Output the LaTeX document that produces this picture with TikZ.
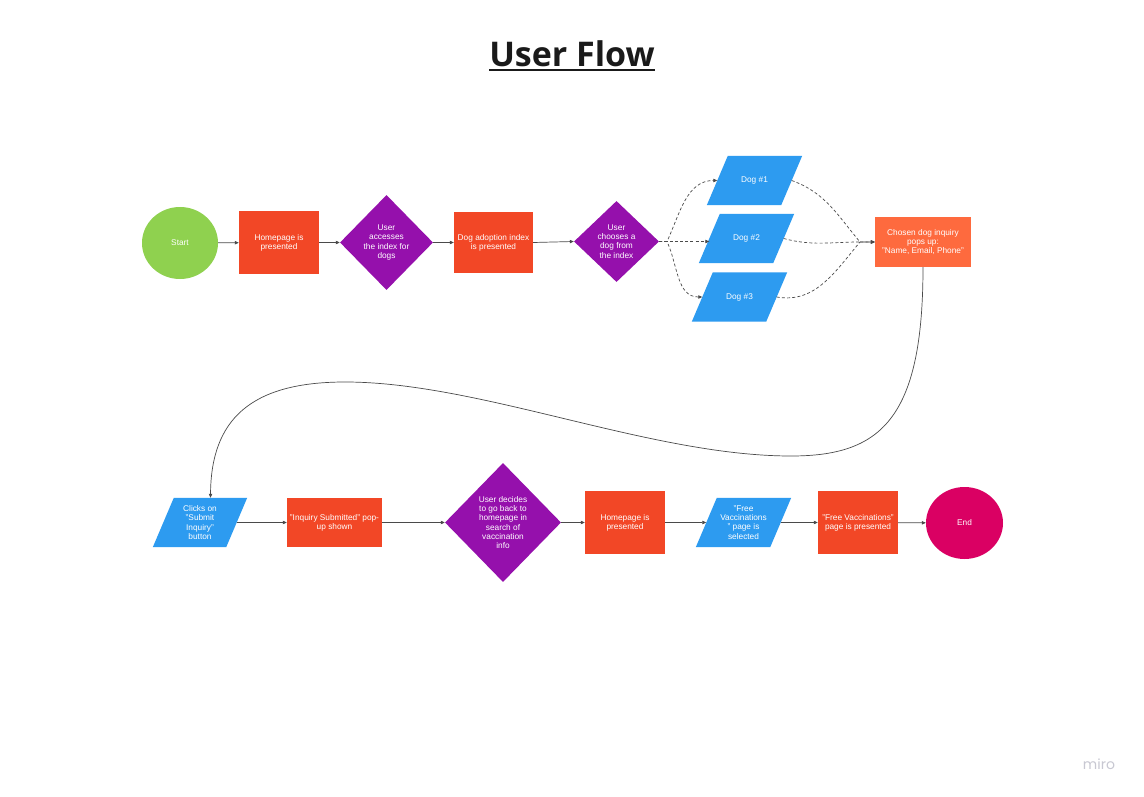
\documentclass[tikz,border=0pt]{standalone}
\usepackage{fontspec}
\setmainfont{Liberation Sans}
\newfontfamily\titlefont{Open Sans}
\newfontfamily\mirofont{Poppins}
\usetikzlibrary{shapes.geometric,arrows.meta,backgrounds}
\definecolor{cGreen}{HTML}{8FD14F}
\definecolor{cRed}{HTML}{F24726}
\definecolor{cPurple}{HTML}{9510AC}
\definecolor{cBlue}{HTML}{2D9BF0}
\definecolor{cOrange}{HTML}{FE6A3E}
\definecolor{cEnd}{HTML}{DA0063}
\definecolor{cLine}{HTML}{4A4A4A}
\definecolor{cTitle}{HTML}{1A1A1A}
\definecolor{cMiro}{HTML}{C8C8D2}
\newcommand\parafill[1]{\fill[cBlue] ([xshift=-10.5pt]#1.south west) -- ([xshift=-10.5pt]#1.south east) -- ([xshift=10.5pt]#1.north east) -- ([xshift=10.5pt]#1.north west) -- cycle;}
\begin{document}
\begin{tikzpicture}[x=1pt,y=-1pt,
  base/.style={draw=none,text=white,font=\fontsize{8.3}{9.2}\selectfont,align=center,inner sep=0pt},
  boxr/.style={base,rectangle,fill=cRed},
  circ/.style={base,ellipse},
  dia/.style={base,diamond,fill=cPurple},
  para/.style={base,rectangle,minimum height=49pt,minimum width=74pt},
  arr/.style={draw=cLine,line width=0.7pt,-{Triangle[length=4pt,width=3.4pt]}},
  dsh/.style={arr,dash pattern=on 3pt off 2.2pt}]
% title
\node[font=\titlefont\bfseries\fontsize{34}{40}\selectfont,text=cTitle,inner sep=0pt,anchor=base] (title) at (572,66.5) {User Flow};
\draw[cTitle,line width=2pt] ([yshift=-3.8pt]title.base west) -- ([yshift=-3.8pt]title.base east);
% top row
\node[circ,fill=cGreen,minimum width=76pt,minimum height=72pt] (start) at (180,243) {Start};
\node[boxr,minimum width=80pt,minimum height=63pt] (home1) at (279,242.5) {Homepage is\\presented};
\node[dia,minimum width=93pt,minimum height=95pt] (d1) at (386.5,242.5) {User\\accesses\\the index for\\dogs};
\node[boxr,minimum width=79pt,minimum height=61pt] (idx) at (493.5,242.5) {Dog adoption index\\is presented};
\node[dia,minimum width=85pt,minimum height=81pt] (d2) at (616.5,241.5) {User\\chooses a\\dog from\\the index};
\node[para] (dog1) at (754.5,180.5) {Dog \#1};
\node[para] (dog2) at (746.5,238.5) {Dog \#2};
\node[para] (dog3) at (739.5,297) {Dog \#3};
\node[base,rectangle,fill=cOrange,minimum width=96pt,minimum height=50pt] (inq) at (923,242) {Chosen dog inquiry\\pops up:\\"Name, Email, Phone"};
% bottom row
\node[para,minimum width=73pt] (click) at (200,522.5) {Clicks on\\"Submit\\Inquiry"\\button};
\node[boxr,minimum width=95pt,minimum height=49pt] (subm) at (334.5,522.5) {"Inquiry Submitted" pop-\\up shown};
\node[dia,minimum width=116pt,minimum height=119pt] (d3) at (503,522.5) {User decides\\to go back to\\homepage in\\search of\\vaccination\\info};
\node[boxr,minimum width=80pt,minimum height=63pt] (home2) at (625,522.5) {Homepage is\\presented};
\node[para] (fv) at (743.5,522.5) {"Free\\Vaccinations\\" page is\\selected};
\node[boxr,minimum width=80pt,minimum height=63pt] (fvp) at (858,522.5) {"Free Vaccinations"\\page is presented};
\node[circ,fill=cEnd,minimum width=77pt,minimum height=72pt] (end) at (964.5,523) {End};
% miro mark
\node[font=\mirofont\fontsize{14}{16}\selectfont,text=cMiro,inner sep=0pt,anchor=base] (miro) at (1099,769) {miro};
% background and parallelogram bodies
\begin{scope}[on background layer]
\fill[white] (0,0) rectangle (1144,797);
\parafill{dog1}
\parafill{dog2}
\parafill{dog3}
\parafill{click}
\parafill{fv}
\end{scope}
\path[use as bounding box] (0,0) rectangle (1144,797);
% connectors top
\draw[arr] (start) -- (home1);
\draw[arr] (home1) -- (d1);
\draw[arr] (d1) -- (idx);
\draw[arr] (idx.east) -- (d2.west);
\coordinate (split) at (667,241.5);
\coordinate (join) at (860,242);
\draw[dsh] (d2.east) -- (split) to[out=65,in=180] (dog1.west);
\draw[dsh] (d2.east) -- (split) -- (dog2.west |- split);
\draw[dsh] (d2.east) -- (split) to[out=-65,in=180] (dog3.west);
\draw[dsh] (dog1.east) to[out=-20,in=130] (join) -- (inq.west);
\draw[dsh] (dog2.east) to[out=-15,in=180] (join) -- (inq.west);
\draw[dsh] (dog3.east) to[out=-10,in=-130] (join) -- (inq.west);
% long connector
\coordinate (low) at (791,456);
\coordinate (high) at (345,382);
\draw[arr] (inq.south) .. controls (923,420) and (880,456) .. (low)
  .. controls (650,456) and (480,382) .. (high)
  .. controls (250,382) and (211,420) .. ([xshift=10.5pt]click.north);
% bottom connectors
\draw[arr] (click.east) -- (subm.west);
\draw[arr] (subm) -- (d3);
\draw[arr] (d3) -- (home2);
\draw[arr] (home2.east) -- (fv.west);
\draw[arr] (fv.east) -- (fvp.west);
\draw[arr] (fvp) -- (end);
\end{tikzpicture}
\end{document}
